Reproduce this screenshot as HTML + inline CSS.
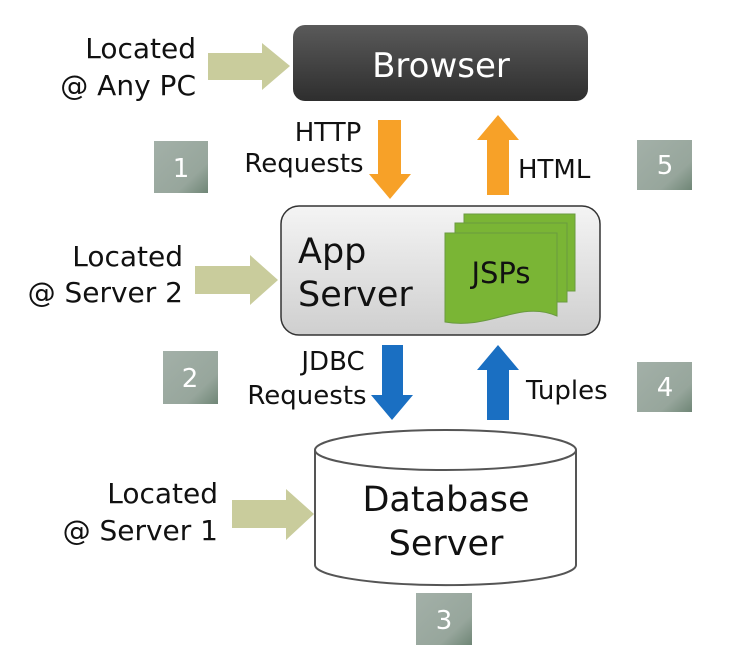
<!DOCTYPE html>
<html><head><meta charset="utf-8"><style>
html,body{margin:0;padding:0;background:#fff;width:745px;height:652px;overflow:hidden}
text{font-family:"DejaVu Sans","Liberation Sans",sans-serif}
</style></head><body>
<svg width="745" height="652" viewBox="0 0 745 652" xmlns="http://www.w3.org/2000/svg">
<defs>
<linearGradient id="br" x1="0" y1="0" x2="0" y2="1"><stop offset="0" stop-color="#5a5a5a"/><stop offset="1" stop-color="#2e2e2e"/></linearGradient>
<linearGradient id="ap" x1="0" y1="0" x2="0" y2="1"><stop offset="0" stop-color="#f4f4f4"/><stop offset="1" stop-color="#cfcfcf"/></linearGradient>
<linearGradient id="bx" x1="0" y1="0" x2="1" y2="1"><stop offset="0" stop-color="#a3b0a8"/><stop offset="0.7" stop-color="#97a69c"/><stop offset="1" stop-color="#6f8676"/></linearGradient>
</defs>
<rect x="293" y="25" width="295" height="76" rx="12" fill="url(#br)"/>
<text x="441" y="77" font-size="34" fill="#fff" text-anchor="middle">Browser</text>
<polygon points="208,53 262,53 262,43 290,66 262,90 262,80 208,80" fill="#c9cc9c"/>
<polygon points="195,266 250,266 250,255 278,280 250,305 250,294 195,294" fill="#c9cc9c"/>
<polygon points="232,500 286,500 286,489 314,514 286,540 286,528 232,528" fill="#c9cc9c"/>
<g font-size="28" fill="#111" text-anchor="end">
<text x="196" y="58">Located</text><text x="196" y="95">@ Any PC</text>
<text x="183" y="266">Located</text><text x="183" y="302">@ Server 2</text>
<text x="218" y="503">Located</text><text x="218" y="540">@ Server 1</text>
</g>
<polygon points="378,120 401,120 401,174 411,174 390,199 369,174 378,174" fill="#f7a128"/>
<polygon points="487,195 509,195 509,140 519,140 498,115 477,140 487,140" fill="#f7a128"/>
<g font-size="26" fill="#111">
<text x="328" y="141" text-anchor="middle">HTTP</text>
<text x="304" y="172" text-anchor="middle">Requests</text>
<text x="518" y="178">HTML</text>
<text x="333" y="370" text-anchor="middle">JDBC</text>
<text x="307" y="404" text-anchor="middle">Requests</text>
<text x="526" y="399">Tuples</text>
</g>
<rect x="281" y="206" width="319" height="129" rx="18" fill="url(#ap)" stroke="#333" stroke-width="1.5"/>
<text x="298" y="263" font-size="35" fill="#111">App</text>
<text x="298" y="306" font-size="35" fill="#111">Server</text>
<rect x="464" y="214" width="111" height="77" fill="#7ab535" stroke="#6a9a40"/>
<rect x="455" y="223" width="112" height="79" fill="#7ab535" stroke="#6a9a40"/>
<path d="M445,233 H557 V316 C520,300 490,330 445,322 Z" fill="#7ab535" stroke="#6a9a40"/>
<text x="501" y="283" font-size="29" fill="#111" text-anchor="middle">JSPs</text>
<polygon points="382,345 403,345 403,395 413,395 392,420 371,395 382,395" fill="#1a6fc2"/>
<polygon points="487,420 509,420 509,370 519,370 498,345 477,370 487,370" fill="#1a6fc2"/>
<path d="M315,450 V565 A130,20 0 0 0 576,565 V450" fill="#fff" stroke="#555" stroke-width="2"/>
<ellipse cx="445.5" cy="450" rx="130.5" ry="20" fill="#fff" stroke="#555" stroke-width="2"/>
<text x="446" y="511" font-size="35" fill="#111" text-anchor="middle">Database</text>
<text x="446" y="555" font-size="35" fill="#111" text-anchor="middle">Server</text>
<g font-size="26" fill="#fff" text-anchor="middle">
<rect x="154" y="141" width="54" height="52" fill="url(#bx)"/><text x="181" y="177">1</text>
<rect x="637" y="140" width="55" height="50" fill="url(#bx)"/><text x="665" y="174">5</text>
<rect x="163" y="351" width="55" height="53" fill="url(#bx)"/><text x="190" y="387">2</text>
<rect x="637" y="362" width="55" height="50" fill="url(#bx)"/><text x="665" y="396">4</text>
<rect x="416" y="593" width="56" height="52" fill="url(#bx)"/><text x="444" y="629">3</text>
</g>
</svg>
</body></html>
